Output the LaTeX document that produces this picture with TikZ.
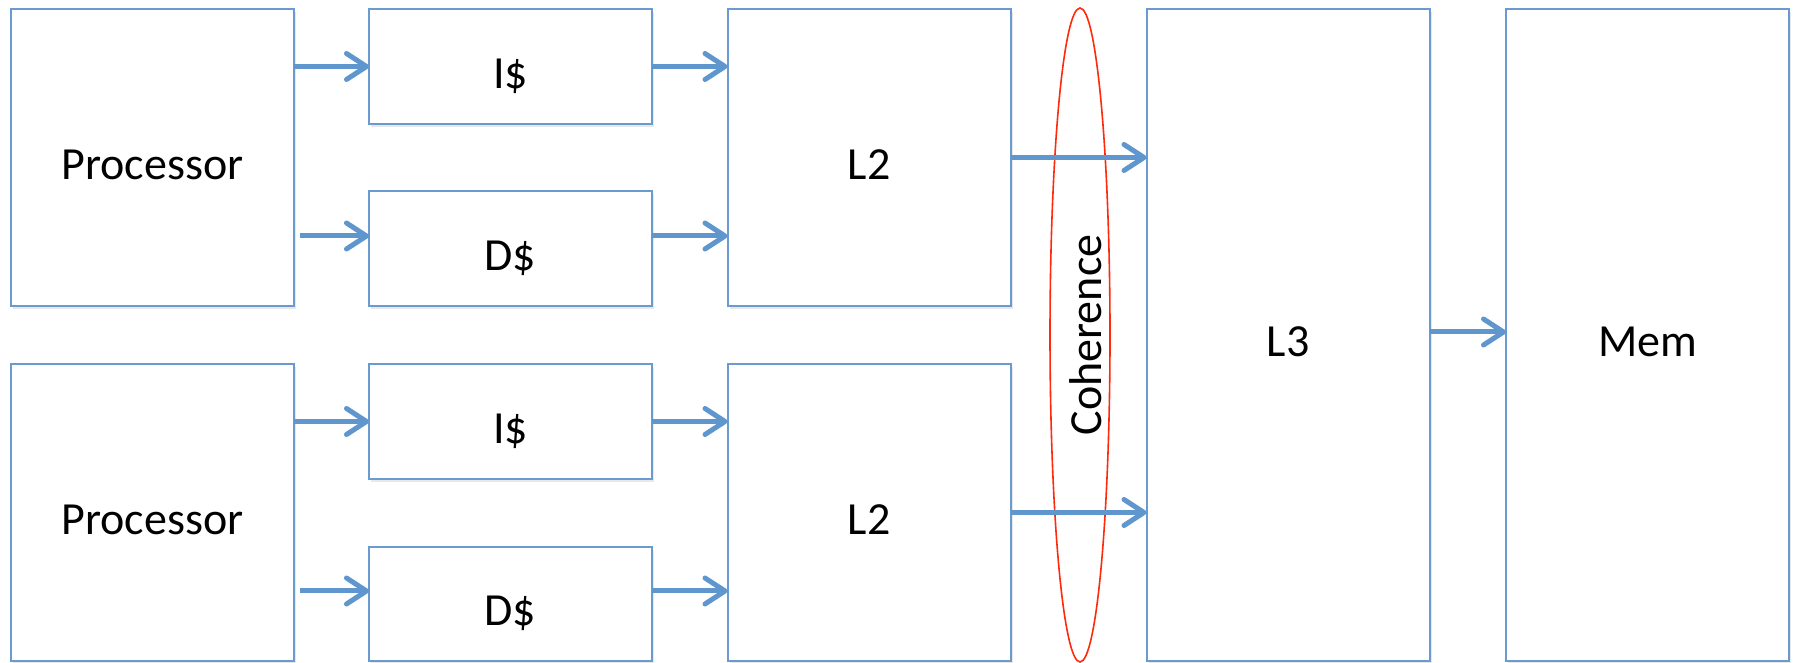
\documentclass[tikz,border=0pt]{standalone}
\usepackage{fontspec}
\setmainfont{Carlito}
\usetikzlibrary{arrows.meta,shapes.geometric,shadows,calc}
\definecolor{boxblue}{HTML}{6A9BD0}
\definecolor{arrowblue}{HTML}{5F96CD}
\definecolor{cohred}{HTML}{FF2A0A}
\begin{document}
\begin{tikzpicture}[x=1pt,y=1pt,
  unit/.style={draw=boxblue, line width=2pt, fill=white, inner sep=0pt, outer sep=0pt,
    font=\fontsize{46}{55}\selectfont, text height=44pt, text depth=0pt,
    drop shadow={opacity=0.18, shadow xshift=2pt, shadow yshift=-3pt}},
  tall/.style={unit, minimum width=283pt, minimum height=297pt},
  cache/.style={unit, minimum width=283pt, minimum height=115pt},
  full/.style={unit, minimum width=283pt, minimum height=652pt},
  link/.style={draw=arrowblue, line width=5pt,
    -{Straight Barb[length=20pt, width=26pt, round]}}
]
\useasboundingbox[fill=white] (0,0) rectangle (1793,663);

% first core
\node[tall]  (p1)  at (152.5,505.5) {Processor};
\node[cache] (i1)  at (510.5,596.5) {I\$};
\node[cache] (d1)  at (510.5,414.5) {D\$};
\node[tall]  (l2a) at (869,505.5)   {L2};

% second core
\node[tall]  (p2)  at (152.5,150.5) {Processor};
\node[cache] (i2)  at (510.5,241.5) {I\$};
\node[cache, minimum height=114pt] (d2) at (510.5,59) {D\$};
\node[tall]  (l2b) at (869,150.5)   {L2};

% shared levels
\node[full] (l3)  at (1288,328)   {L3};
\node[full] (mem) at (1647.5,328) {Mem};

% coherence domain
\node[ellipse, draw=cohred, line width=1.6pt, minimum width=60pt, minimum height=654pt,
      inner sep=0pt] (coh) at (1080,328) {};
\node[rotate=90, font=\fontsize{46}{55}\selectfont] (cohtxt) at (1086,328) {Coherence};

% entry points of the data-cache arrows
\coordinate (d1in) at ($(d1.west)+(0,12.5)$);
\coordinate (d2in) at ($(d2.west)+(0,13)$);

% core 1 links
\draw[link] (p1.east |- i1.west) -- (i1.west);
\draw[link] ($(p1.east |- d1in)+(6,0)$) -- (d1in);
\draw[link] (i1.east) -- (i1.east -| l2a.west);
\draw[link] (d1in -| d1.east) -- (d1in -| l2a.west);

% core 2 links
\draw[link] (p2.east |- i2.west) -- (i2.west);
\draw[link] ($(p2.east |- d2in)+(6,0)$) -- (d2in);
\draw[link] (i2.east) -- (i2.east -| l2b.west);
\draw[link] (d2in -| d2.east) -- (d2in -| l2b.west);

% into the shared cache and memory
\draw[link] (l2a.east) -- (l2a.east -| l3.west);
\draw[link] (l2b.east) -- (l2b.east -| l3.west);
\draw[link] ($(l3.east)+(0,3)$) -- ($(mem.west)+(0,3)$);
\end{tikzpicture}
\end{document}
